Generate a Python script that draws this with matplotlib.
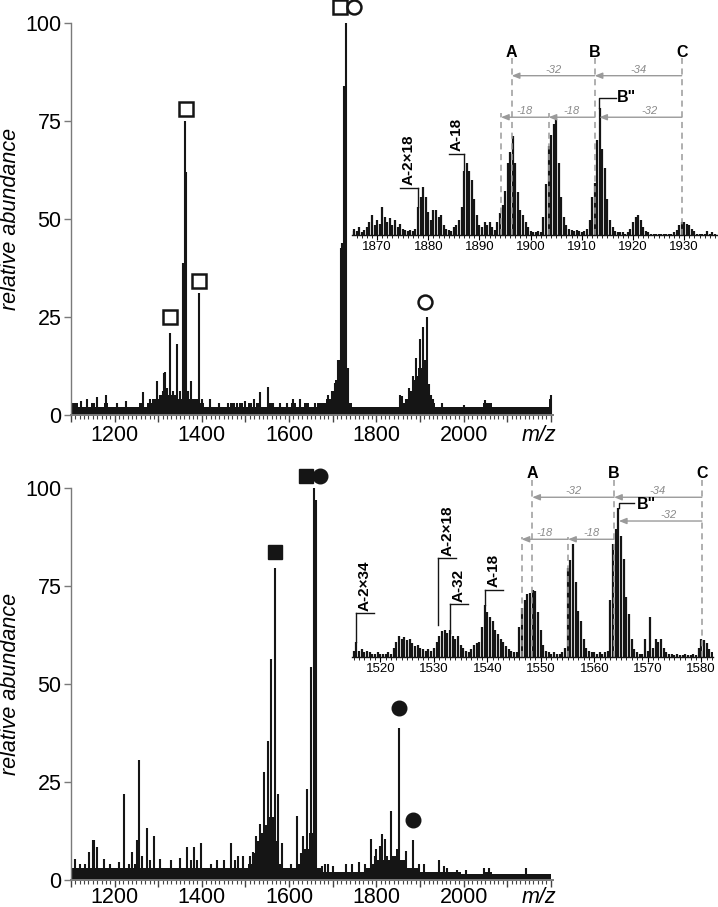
import numpy as np
import matplotlib
matplotlib.use('Agg')
import matplotlib.pyplot as plt
from matplotlib.ticker import MultipleLocator, FuncFormatter

plt.rcParams['font.family'] = ['Liberation Sans', 'DejaVu Sans']

# ------------------------------------------------------------------ data
# main spectrum A (top): baseline noise sampled every 10 m/z, plus discrete peaks
top_noise_mz = np.arange(1100, 2201, 10)
top_noise_int = [2, 3, 2, 2, 2, 3, 2, 2, 3, 2,
                 2, 2, 2, 2, 2, 2, 3, 2, 3, 4,
                 4, 5, 5, 5, 5, 4, 5, 4, 4, 4,
                 3, 2, 2, 2, 2, 2, 2, 3, 2, 3,
                 2, 3, 2, 3, 2, 2, 3, 2, 2, 2,
                 2, 3, 2, 2, 3, 2, 2, 3, 3, 4,
                 6, 9, 12, 8, 3, 2, 2, 2, 2, 2,
                 2, 2, 2, 2, 2, 2, 3, 4, 6, 9,
                 12, 8, 4, 3, 2, 2, 2, 2, 2, 2,
                 2, 2, 2, 2, 2, 3, 3, 2, 2, 2,
                 2, 2, 2, 2, 2, 2, 2, 2, 2, 2,
                 4]
top_peak_mz = [1105, 1124, 1136, 1150, 1160, 1180, 1206, 1225, 1266, 1281,
               1296.7, 1303, 1310, 1313.5, 1316.5, 1320, 1327.3, 1334, 1342.6, 1350,
               1357.9, 1361.7, 1364, 1368, 1375.5, 1382, 1387, 1394.5, 1400, 1417.6,
               1440, 1460, 1480, 1500, 1519, 1533, 1551.5, 1562, 1580, 1595,
               1610, 1625, 1660, 1689, 1698, 1705, 1711, 1715, 1719, 1722,
               1725, 1728, 1731, 1734, 1855, 1858, 1868, 1874.4, 1878, 1883.5,
               1887, 1891.3, 1895, 1899.6, 1903, 1907.5, 1912, 1916.5, 1921, 1925,
               1930, 1950, 2000, 2050, 2056, 2200]
top_peak_int = [3, 3.5, 4, 3, 4.5, 5, 3, 3.5, 5.8, 4.1,
                8.7, 5, 6, 10.8, 11, 7, 21, 6, 18, 6,
                38.7, 75, 62, 6, 8.7, 4, 4.1, 31, 4, 4.1,
                3, 3, 3, 3.5, 4.1, 5.8, 7.2, 3, 3, 3,
                4, 4, 3, 5, 6, 8.2, 14, 14, 42.6, 44,
                84, 84, 100, 12, 5, 4.8, 4, 6.9, 6, 10,
                7, 14.5, 10, 19.5, 12, 22.5, 14, 25, 8, 5,
                4, 3, 2.5, 3.8, 3, 5]
top_square_mz = [1327.3, 1363.3, 1394.5, 1717.5]
top_square_int = [25.1, 78, 34.2, 104.2]
top_circle_mz = [1748, 1912.7]
top_circle_int = [104.2, 28.9]

# main spectrum B (bottom)
bot_noise_mz = np.arange(1100, 2201, 10)
bot_noise_int = [3, 3, 3, 3, 3, 3, 3, 3, 3, 3,
                 3, 3, 3, 3, 3, 4, 3, 3, 3, 3,
                 3, 3, 3, 3, 3, 3, 3, 3, 3, 3,
                 3, 3, 3, 3, 3, 3, 3, 3, 3, 3,
                 3, 4, 7, 10, 12, 14, 16, 10, 4, 3,
                 3, 3, 4, 5, 8, 12, 20, 3, 2, 2,
                 2, 2, 2, 2, 2, 2, 2, 2, 3, 4,
                 5, 6, 5, 5, 6, 8, 5, 3, 3, 3,
                 2, 2, 2, 2, 2, 2, 2, 2, 2, 2,
                 1.5, 1.5, 1.5, 1.5, 1.5, 2, 2, 1.5, 1.5, 1.5,
                 1.5, 1.5, 1.5, 1.5, 1.5, 1.5, 1.5, 1.5, 1.5, 1.5,
                 1.5]
bot_peak_mz = [1109, 1120, 1132, 1142, 1150, 1153.5, 1160, 1175, 1190, 1210,
               1221.7, 1232, 1240.8, 1250.8, 1256, 1262, 1273.7, 1280, 1291, 1305,
               1330, 1350, 1367, 1375, 1382, 1390, 1396.9, 1420, 1435, 1450,
               1467, 1475, 1482, 1495, 1510, 1517, 1524.7, 1534, 1541.5, 1551.5,
               1558.5, 1567.6, 1574.5, 1584, 1605, 1618, 1627, 1632, 1641, 1650,
               1656, 1662.5, 1675, 1683, 1690, 1700, 1730, 1745, 1760, 1775,
               1788.7, 1796, 1800, 1809, 1813, 1819, 1825, 1834.6, 1845, 1853,
               1860, 1868, 1885, 1897, 1910, 1943, 1955, 1962, 1985, 2005,
               2046, 2058, 2142]
bot_peak_int = [5.3, 4, 4, 7.2, 10.3, 10.3, 8.3, 5.3, 4, 4.5,
                22, 4, 7.2, 10.3, 30.7, 6, 13.3, 5, 11.3, 5.3,
                5, 5.5, 8.3, 5, 8.3, 5, 9.4, 4, 5, 5,
                9.4, 5, 6, 6, 6, 7.2, 11.3, 14.2, 27.5, 35.5,
                56.5, 79.7, 22, 9.4, 4, 16.3, 7, 11.3, 23.1, 54.3,
                100, 97, 3.5, 4, 4, 3.5, 4, 4, 4.5, 4,
                10.4, 6, 8, 8.8, 11.8, 10.4, 6, 17.6, 6, 38.9,
                5, 7.4, 10.2, 4, 4, 5, 3.5, 3, 2.5, 2.5,
                3, 3, 3]
bot_square_mz = [1568.3, 1639.5]
bot_square_int = [83.6, 103]
bot_circle_mz = [1671.6, 1852.3, 1884.4]
bot_circle_int = [103, 43.8, 15.3]

# inset A (zoom of top spectrum), sampled every 0.5 m/z
insA_mz = np.arange(1865.0, 1936.01, 0.5)
insA_int = [3, 5, 3, 6, 2, 4, 6, 10, 16, 8,
            12, 9, 22, 14, 10, 13, 8, 12, 6, 9,
            5, 4, 3, 4, 3, 5, 22, 30, 38, 30,
            18, 12, 20, 20, 14, 16, 8, 5, 4, 3,
            6, 8, 12, 22, 50, 57, 50, 43, 28, 16,
            8, 6, 10, 8, 10, 6, 4, 10, 17, 24,
            35, 57, 65, 78, 57, 34, 20, 16, 10, 6,
            3, 2, 2, 3, 2, 14, 40, 70, 79, 87,
            91, 57, 30, 14, 8, 5, 4, 3, 4, 3,
            2, 3, 5, 12, 30, 41, 75, 100, 68, 53,
            28, 12, 6, 3, 2, 2, 2, 1, 2, 5,
            10, 14, 16, 12, 6, 3, 2, 1, 1, 1,
            1, 1, 1, 1, 1, 1, 2, 4, 8, 10,
            10, 9, 8, 5, 3, 1, 1, 1, 1, 3,
            1, 2, 1]
insA_refs = {'A': 1896.3, 'B': 1912.5, 'C': 1929.5}
insA_m18 = [1903.5, 1894.2]
insA_Bpp = 1913.4

# inset B (zoom of bottom spectrum)
insB_mz = np.arange(1515.0, 1582.01, 0.5)
insB_int = [4, 10, 4, 5, 3, 4, 3, 2, 2, 3,
            2, 2, 2, 3, 2, 6, 10, 14, 12, 13,
            11, 12, 9, 7, 8, 6, 5, 4, 5, 4,
            6, 10, 14, 17, 18, 16, 18, 14, 12, 14,
            8, 6, 4, 3, 5, 8, 9, 10, 20, 35,
            30, 27, 24, 18, 15, 12, 10, 7, 5, 4,
            3, 3, 20, 33, 38, 42, 43, 45, 44, 30,
            18, 8, 4, 3, 2, 3, 2, 2, 3, 6,
            60, 65, 76, 50, 31, 24, 12, 6, 4, 3,
            3, 2, 3, 2, 3, 4, 38, 76, 86, 100,
            81, 66, 40, 29, 12, 5, 3, 2, 2, 12,
            4, 27, 6, 12, 10, 12, 6, 3, 2, 2,
            1, 2, 1, 1, 2, 1, 1, 2, 1, 6,
            12, 11, 9, 5, 3]
insB_refs = {'A': 1548.4, 'B': 1563.7, 'C': 1580.1}
insB_m18 = [1555.1, 1546.4]
insB_Bpp = 1564.6

# ------------------------------------------------------------------ style
INK = '#151515'
AXGRAY = '#7a7a7a'
GRAY = '#9a9a9a'
GRAYTXT = '#8a8a8a'
W, H = 718, 907

fig = plt.figure(figsize=(W / 100, H / 100), dpi=100)


def px_rect(left, top, right, bottom):
    return [left / W, (H - bottom) / H, (right - left) / W, (bottom - top) / H]


def main_axes(rect, noise_mz, noise_int, pk_mz, pk_int, xpad):
    ax = fig.add_axes(rect)
    ax.fill_between(noise_mz, 0, noise_int, step='mid', color=INK, lw=0)
    ax.vlines(pk_mz, 0, pk_int, color=INK, lw=1.5)
    ax.set_xlim(1100, 2205)
    ax.set_ylim(0, 100)
    for s in ('top', 'right'):
        ax.spines[s].set_visible(False)
    ax.spines['left'].set_color(AXGRAY)
    ax.spines['left'].set_linewidth(1.0)
    ax.spines['bottom'].set_color(AXGRAY)
    ax.spines['bottom'].set_linewidth(1.4)
    ax.set_yticks([0, 25, 50, 75, 100])
    ax.tick_params(axis='y', length=5, width=1, color=AXGRAY, labelsize=15.5, pad=2)
    ax.xaxis.set_major_locator(MultipleLocator(100))
    ax.xaxis.set_minor_locator(MultipleLocator(10))
    ax.xaxis.set_major_formatter(FuncFormatter(
        lambda v, p: f'{int(round(v))}' if (round(v) % 200 == 0 and v <= 2000) else ''))
    ax.tick_params(axis='x', which='major', length=5, width=1, color='#444444',
                   labelsize=15.5, pad=xpad)
    ax.tick_params(axis='x', which='minor', length=3, width=0.8, color='#444444')
    ax.set_ylabel('relative abundance', fontsize=15.5, style='italic')
    ax.yaxis.set_label_coords(-0.103, 0.5)
    ax.annotate('m/z', xy=(2172, 0), xycoords=('data', 'axes fraction'),
                xytext=(0, -5 - xpad), textcoords='offset points', ha='center', va='top',
                fontsize=15.5, style='italic')
    return ax


def inset_axes(rect, xlim, ylim_top, mz, inten):
    ax = fig.add_axes(rect)
    ax.set_facecolor('none')
    ax.vlines(mz, 0, inten, color=INK, lw=1.6)
    ax.set_xlim(*xlim)
    ax.set_ylim(0, ylim_top)
    for s in ('top', 'right', 'left'):
        ax.spines[s].set_visible(False)
    ax.spines['bottom'].set_color(INK)
    ax.spines['bottom'].set_linewidth(1.0)
    ax.set_yticks([])
    ax.xaxis.set_major_locator(MultipleLocator(10))
    ax.xaxis.set_minor_locator(MultipleLocator(1))
    ax.tick_params(axis='x', which='major', length=3.5, width=0.8, labelsize=9.5, pad=1)
    ax.tick_params(axis='x', which='minor', length=2, width=0.6)
    return ax


def dashed(ax, x, ytop):
    ax.plot([x, x], [0, ytop], color=GRAY, lw=1.1, ls=(0, (4, 3)))


def arrow(ax, x_tail, x_head, y, label, xtext=None):
    ax.annotate('', xy=(x_head, y), xytext=(x_tail, y),
                arrowprops=dict(arrowstyle='-|>,head_length=0.45,head_width=0.18',
                                color=GRAY, lw=1.0, shrinkA=0, shrinkB=0))
    if xtext is None:
        xtext = (x_tail + x_head) / 2
    ax.text(xtext, y + 0.8, label, ha='center', va='bottom',
            fontsize=8, style='italic', color=GRAYTXT)


def bracket(ax, x_vert, x_other, y_h, y_low, label, x_text, y_text):
    ax.plot([x_vert, x_other], [y_h, y_h], color=INK, lw=1.0)
    ax.plot([x_vert, x_vert], [y_h, y_low], color=INK, lw=1.0)
    ax.text(x_text, y_text, label, rotation=90, ha='center', va='bottom',
            fontsize=11, fontweight='bold')


# ------------------------------------------------------------------ top panel
axT = main_axes(px_rect(71, 23, 553, 415), top_noise_mz, top_noise_int,
                top_peak_mz, top_peak_int, xpad=2)
axT.plot(top_square_mz, top_square_int, ls='none', marker='s', ms=9.5, mfc='white',
         mec=INK, mew=1.8, clip_on=False, zorder=5)
axT.plot(top_circle_mz, top_circle_int, ls='none', marker='o', ms=10, mfc='white',
         mec=INK, mew=1.8, clip_on=False, zorder=5)

iA = inset_axes(px_rect(352, 40, 717, 235), (1865.1, 1936.4), 153.5, insA_mz, insA_int)
for k, x in insA_refs.items():
    dashed(iA, x, 139.4)
    iA.text(x, 144, k, ha='center', va='center', fontsize=11.5, fontweight='bold')
for x in insA_m18:
    dashed(iA, x, 96)
arrow(iA, insA_refs['B'], insA_refs['A'], 125.4, '-32')
arrow(iA, insA_refs['C'], insA_refs['B'], 125.4, '-34')
arrow(iA, insA_refs['B'], insA_m18[0], 92.7, '-18')
arrow(iA, insA_m18[0], insA_m18[1], 92.7, '-18')
arrow(iA, insA_refs['C'], insA_Bpp, 92.7, '-32', xtext=1923.2)
iA.plot([insA_Bpp, insA_Bpp, 1916.6], [100, 107.5, 107.5], color=INK, lw=1.0)
iA.text(1916.9, 108, 'B"', ha='left', va='center', fontsize=11.5, fontweight='bold')
bracket(iA, 1887.0, 1884.1, 63.8, 51, 'A-18', 1885.6, 66)
bracket(iA, 1877.9, 1874.5, 36.8, 22.3, 'A-2×18', 1876.1, 39)

# ------------------------------------------------------------------ bottom panel
axB = main_axes(px_rect(71, 488, 553, 880), bot_noise_mz, bot_noise_int,
                bot_peak_mz, bot_peak_int, xpad=0.3)
axB.plot(bot_square_mz, bot_square_int, ls='none', marker='s', ms=9.5, mfc=INK,
         mec=INK, mew=1.0, clip_on=False, zorder=5)
axB.plot(bot_circle_mz, bot_circle_int, ls='none', marker='o', ms=10.5, mfc=INK,
         mec=INK, mew=1.0, clip_on=False, zorder=5)

iB = inset_axes(px_rect(352, 460, 713, 656.7), (1514.7, 1582.2), 132.5, insB_mz, insB_int)
for k, x in insB_refs.items():
    dashed(iB, x, 119)
    iB.text(x, 123.6, k, ha='center', va='center', fontsize=11.5, fontweight='bold')
for x in insB_m18:
    dashed(iB, x, 80.9)
arrow(iB, insB_refs['B'], insB_refs['A'], 107.4, '-32')
arrow(iB, insB_refs['C'], insB_refs['B'], 107.4, '-34')
arrow(iB, insB_refs['C'], insB_Bpp, 91.4, '-32', xtext=1573.8)
arrow(iB, insB_refs['B'], insB_m18[0], 79.1, '-18')
arrow(iB, insB_m18[0], insB_m18[1], 79.1, '-18')
iB.plot([insB_Bpp, insB_Bpp, 1567.5], [100, 103.8, 103.8], color=INK, lw=1.0)
iB.text(1568.0, 102.5, 'B"', ha='left', va='center', fontsize=11.5, fontweight='bold')
bracket(iB, 1515.4, 1518.9, 29.2, 10.1, 'A-2×34', 1517.1, 31)
bracket(iB, 1530.8, 1534.2, 66.7, 21.4, 'A-2×18', 1532.5, 68)
bracket(iB, 1533.0, 1536.4, 35.3, 15.8, 'A-32', 1534.7, 36.8)
bracket(iB, 1539.6, 1542.9, 45.0, 34.8, 'A-18', 1541.2, 46.8)

fig.savefig('out.png', dpi=100)
